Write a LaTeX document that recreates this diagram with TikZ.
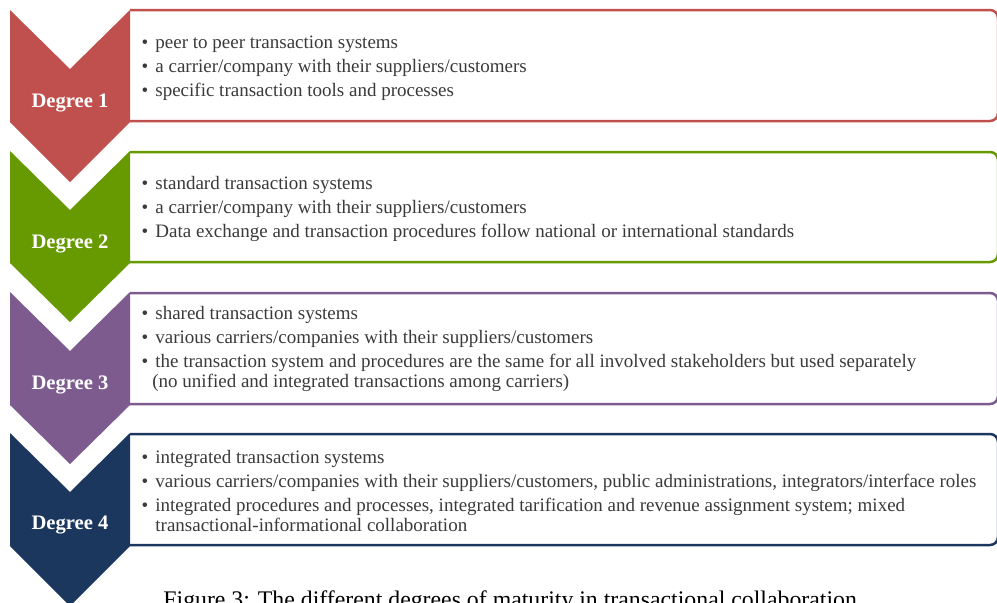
\documentclass[tikz,border=0pt]{standalone}
\usepackage{fontspec}
\setmainfont{Liberation Serif}
\usepackage{tikz}

\definecolor{degred}{HTML}{C0504D}
\definecolor{deggreen}{HTML}{669A00}
\definecolor{degpurple}{HTML}{7D5B8F}
\definecolor{degblue}{HTML}{1C375E}
\definecolor{bodytext}{HTML}{3A3A3A}

\begin{document}
\begin{tikzpicture}[x=0.5pt,y=-0.5pt,
    itembox/.style={draw=#1,line width=1.25pt,rounded corners=4pt},
    degree/.style={anchor=base,text=white,inner sep=0pt,font=\fontsize{10.3}{12}\selectfont\bfseries},
    itemline/.style={anchor=base west,text=bodytext,inner sep=0pt,font=\fontsize{9.5}{12}\selectfont},
    item/.style={itemline,execute at begin node={\llap{\textbullet\hspace{3.6pt}}}}]
    \useasboundingbox (0,0) rectangle (997,602);
    \clip (0,0) rectangle (997,602);

    % Degree 1
    \draw[itembox=degred] (130,10) -- (998,10) -- (998,121) -- (130,121);
    \fill[degred] (10,10) -- (70,69) -- (130,10) -- (130,122) -- (70,182) -- (10,122) -- cycle;
    \node[degree] (deg1) at (70,107) {Degree 1};
    \node[item] (deg1a) at (155,48.5) {peer to peer transaction systems};
    \node[item] (deg1b) at (155,72.5) {a carrier/company with their suppliers/customers};
    \node[item] (deg1c) at (155,96.5) {specific transaction tools and processes};

    % Degree 2
    \draw[itembox=deggreen] (130,152) -- (998,152) -- (998,262) -- (130,262);
    \fill[deggreen] (10,151) -- (70,210) -- (130,151) -- (130,263) -- (70,322) -- (10,263) -- cycle;
    \node[degree] (deg2) at (70,248) {Degree 2};
    \node[item] (deg2a) at (155,189.5) {standard transaction systems};
    \node[item] (deg2b) at (155,213.5) {a carrier/company with their suppliers/customers};
    \node[item] (deg2c) at (155,237.5) {Data exchange and transaction procedures follow national or international standards};

    % Degree 3
    \draw[itembox=degpurple] (130,293) -- (998,293) -- (998,404) -- (130,404);
    \fill[degpurple] (10,292) -- (70,351) -- (130,292) -- (130,405) -- (70,464) -- (10,405) -- cycle;
    \node[degree] (deg3) at (70,389) {Degree 3};
    \node[item] (deg3a) at (155,319) {shared transaction systems};
    \node[item] (deg3b) at (155,343) {various carriers/companies with their suppliers/customers};
    \node[item] (deg3c) at (155,367) {the transaction system and procedures are the same for all involved stakeholders but used separately};
    \node[itemline] (deg3d) at (152,387) {(no unified and integrated transactions among carriers)};

    % Degree 4
    \draw[itembox=degblue] (130,434) -- (998,434) -- (998,545) -- (130,545);
    \fill[degblue] (10,433) -- (70,492) -- (130,433) -- (130,546) -- (70,606) -- (10,546) -- cycle;
    \node[degree] (deg4) at (70,529) {Degree 4};
    \node[item] (deg4a) at (155,463) {integrated transaction systems};
    \node[item] (deg4b) at (155,487) {various carriers/companies with their suppliers/customers, public administrations, integrators/interface roles};
    \node[item] (deg4c) at (155,511) {integrated procedures and processes, integrated tarification and revenue assignment system; mixed};
    \node[itemline] (deg4d) at (155,531) {transactional-informational collaboration};

    % Caption (cut off by the page edge, as in the original)
    \node[anchor=base west,inner sep=0pt,font=\fontsize{11.9}{14}\selectfont] (caption) at (163,607) {Figure 3: The different degrees of maturity in transactional collaboration};
\end{tikzpicture}
\end{document}
